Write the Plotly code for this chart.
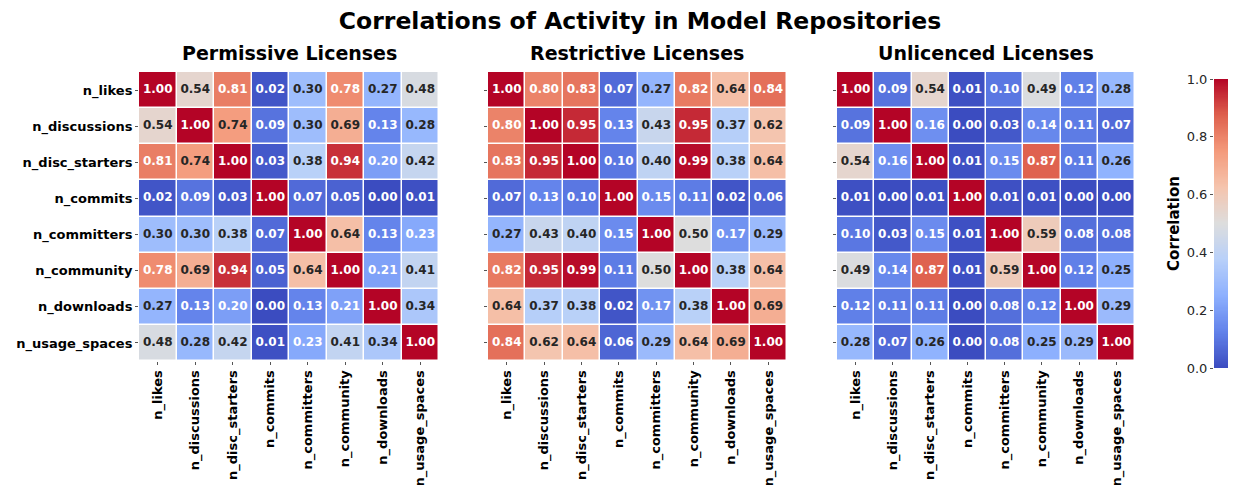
import plotly.graph_objects as go
import numpy as np

features = ["n_likes", "n_discussions", "n_disc_starters", "n_commits",
            "n_committers", "n_community", "n_downloads", "n_usage_spaces"]

panel_titles = ["Permissive Licenses", "Restrictive Licenses", "Unlicenced Licenses"]

permissive = [
    [1.00, 0.54, 0.81, 0.02, 0.30, 0.78, 0.27, 0.48],
    [0.54, 1.00, 0.74, 0.09, 0.30, 0.69, 0.13, 0.28],
    [0.81, 0.74, 1.00, 0.03, 0.38, 0.94, 0.20, 0.42],
    [0.02, 0.09, 0.03, 1.00, 0.07, 0.05, 0.00, 0.01],
    [0.30, 0.30, 0.38, 0.07, 1.00, 0.64, 0.13, 0.23],
    [0.78, 0.69, 0.94, 0.05, 0.64, 1.00, 0.21, 0.41],
    [0.27, 0.13, 0.20, 0.00, 0.13, 0.21, 1.00, 0.34],
    [0.48, 0.28, 0.42, 0.01, 0.23, 0.41, 0.34, 1.00],
]

restrictive = [
    [1.00, 0.80, 0.83, 0.07, 0.27, 0.82, 0.64, 0.84],
    [0.80, 1.00, 0.95, 0.13, 0.43, 0.95, 0.37, 0.62],
    [0.83, 0.95, 1.00, 0.10, 0.40, 0.99, 0.38, 0.64],
    [0.07, 0.13, 0.10, 1.00, 0.15, 0.11, 0.02, 0.06],
    [0.27, 0.43, 0.40, 0.15, 1.00, 0.50, 0.17, 0.29],
    [0.82, 0.95, 0.99, 0.11, 0.50, 1.00, 0.38, 0.64],
    [0.64, 0.37, 0.38, 0.02, 0.17, 0.38, 1.00, 0.69],
    [0.84, 0.62, 0.64, 0.06, 0.29, 0.64, 0.69, 1.00],
]

unlicenced = [
    [1.00, 0.09, 0.54, 0.01, 0.10, 0.49, 0.12, 0.28],
    [0.09, 1.00, 0.16, 0.00, 0.03, 0.14, 0.11, 0.07],
    [0.54, 0.16, 1.00, 0.01, 0.15, 0.87, 0.11, 0.26],
    [0.01, 0.00, 0.01, 1.00, 0.01, 0.01, 0.00, 0.00],
    [0.10, 0.03, 0.15, 0.01, 1.00, 0.59, 0.08, 0.08],
    [0.49, 0.14, 0.87, 0.01, 0.59, 1.00, 0.12, 0.25],
    [0.12, 0.11, 0.11, 0.00, 0.08, 0.12, 1.00, 0.29],
    [0.28, 0.07, 0.26, 0.00, 0.08, 0.25, 0.29, 1.00],
]

colorbar_ticks = [0.0, 0.2, 0.4, 0.6, 0.8, 1.0]

coolwarm = [
    [0.0, "rgb(59,76,192)"],
    [0.125, "rgb(98,130,234)"],
    [0.25, "rgb(141,176,254)"],
    [0.375, "rgb(184,208,249)"],
    [0.5, "rgb(221,221,221)"],
    [0.625, "rgb(245,196,173)"],
    [0.75, "rgb(244,154,123)"],
    [0.875, "rgb(222,96,77)"],
    [1.0, "rgb(180,4,38)"],
]

# page body has an 8px margin: size the figure to the visible area
OFF = 8
W, H = 1236 - OFF, 485 - OFF
FONT = "DejaVu Sans"
DARK = "#262626"


def fx(px):
    return (px - OFF) / W


def fy(py):
    return (H - (py - OFF)) / H


x_domains = [(fx(139), fx(439)), (fx(488), fx(787)), (fx(837), fx(1135))]
y_domain = (fy(361), fy(72))

fig = go.Figure()
layout = dict(
    template="none",
    width=W, height=H,
    margin=dict(l=0, r=0, t=0, b=0, pad=0),
    paper_bgcolor="white", plot_bgcolor="white",
    font=dict(family=FONT, color=DARK),
    showlegend=False,
    title=dict(text="<b>Correlations of Activity in Model Repositories</b>",
               x=fx(640), xanchor="center", xref="paper", y=fy(21), yanchor="middle",
               yref="container", automargin=False,
               font=dict(size=23.5, family=FONT, color="black")),
)

annotations = []
for i, (mat, title) in enumerate(zip([permissive, restrictive, unlicenced], panel_titles)):
    ax = "" if i == 0 else str(i + 1)
    z = np.array(mat)
    fig.add_trace(go.Heatmap(
        z=z, x=features, y=features, zmin=0, zmax=1,
        colorscale=coolwarm, showscale=False, xgap=1.5, ygap=1.5,
        xaxis="x" + ax, yaxis="y" + ax, hoverinfo="skip",
    ))
    xs, ys, txt, cols = [], [], [], []
    for r, rname in enumerate(features):
        for c, cname in enumerate(features):
            v = mat[r][c]
            xs.append(cname)
            ys.append(rname)
            txt.append(f"<b>{v:.2f}</b>")
            cols.append("white" if (v < 0.24 or v > 0.76) else DARK)
    fig.add_trace(go.Scatter(
        x=xs, y=ys, mode="text", text=txt,
        textfont=dict(color=cols, size=12, family=FONT),
        xaxis="x" + ax, yaxis="y" + ax, hoverinfo="skip",
    ))
    layout["xaxis" + ax] = dict(
        domain=list(x_domains[i]), anchor="y" + ax, automargin=False,
        tickangle=-90, ticks="outside", ticklen=3, tickcolor="#555",
        tickfont=dict(size=13, family=FONT, color="black"),
        showgrid=False, zeroline=False, showline=False,
        tickvals=features, ticktext=[f"<b>{f}</b>" for f in features],
    )
    layout["yaxis" + ax] = dict(
        domain=list(y_domain), anchor="x" + ax, automargin=False,
        autorange="reversed", ticks="outside", ticklen=3, tickcolor="#555",
        tickfont=dict(size=13, family=FONT, color="black"),
        showgrid=False, zeroline=False, showline=False,
        tickvals=features,
        ticktext=[f"<b>{f}</b>" for f in features] if i == 0 else [""] * len(features),
    )
    annotations.append(dict(
        text=f"<b>{title}</b>", xref="paper", yref="paper",
        x=(x_domains[i][0] + x_domains[i][1]) / 2, y=fy(53),
        xanchor="center", yanchor="middle", showarrow=False,
        font=dict(size=19, family=FONT, color="black"),
    ))

# colorbar drawn as a gradient heatmap on its own axes
grad = np.linspace(0, 1, 256)
fig.add_trace(go.Heatmap(
    z=grad.reshape(-1, 1), x=[0], y=grad, zmin=0, zmax=1,
    colorscale=coolwarm, showscale=False, xaxis="x4", yaxis="y4", hoverinfo="skip",
))
layout["xaxis4"] = dict(domain=[fx(1214), fx(1233)], anchor="y4", showticklabels=False,
                        automargin=False, showgrid=False, zeroline=False, ticks="",
                        range=[-0.5, 0.5])
layout["yaxis4"] = dict(domain=[fy(368), fy(79)], anchor="x4",
                        automargin=False, range=[0, 1], tickvals=colorbar_ticks,
                        tickformat=".1f", ticks="outside", ticklen=3, tickcolor="#555",
                        tickfont=dict(size=13, family=FONT, color=DARK),
                        showgrid=False, zeroline=False, showline=False,
                        title=dict(text="<b>Correlation</b>", standoff=3,
                                   font=dict(size=15, family=FONT, color="black")))

layout["annotations"] = annotations
fig.update_layout(**layout)
fig.write_html("out.html")
